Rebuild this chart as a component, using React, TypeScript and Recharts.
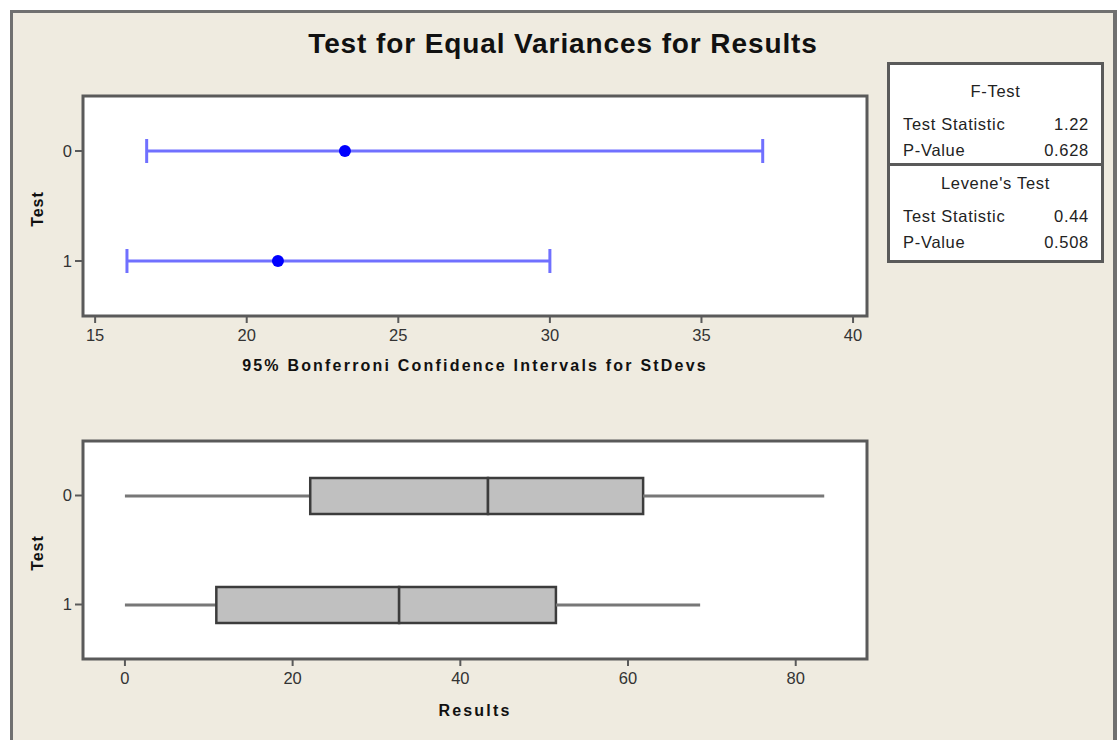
import { Bar, ComposedChart, ErrorBar, ReferenceArea, Scatter, XAxis, YAxis, CartesianGrid } from 'recharts'

const FONT = '"Liberation Sans", Arial, Helvetica, sans-serif'
const PANEL_BG = '#efebe0'
const FRAME = '#5a5a5a'

// groups (rows of both plots)
const groups = ['0', '1']

// 95% Bonferroni confidence intervals for StDevs
const sdLower = [16.7, 16.05]
const sdEstimate = [23.24, 21.03]
const sdUpper = [37.02, 30.0]
const sdTicks = [15, 20, 25, 30, 35, 40]

// box plot of Results
const resMin = [0, 0]
const resQ1 = [22.1, 10.9]
const resMedian = [43.3, 32.7]
const resQ3 = [61.8, 51.4]
const resMax = [83.4, 68.6]
const resTicks = [0, 20, 40, 60, 80]

// test results panel
const fTest = { title: 'F-Test', stat: '1.22', p: '0.628' }
const leveneTest = { title: "Levene's Test", stat: '0.44', p: '0.508' }

const ciData = groups.map((g, i) => ({
  test: i,
  sd: sdEstimate[i],
  err: [sdEstimate[i] - sdLower[i], sdUpper[i] - sdEstimate[i]],
}))

const boxData = groups.map((g, i) => ({
  test: g,
  base: resMin[i],
  lowWhisker: resQ1[i] - resMin[i],
  lowBox: resMedian[i] - resQ1[i],
  highBox: resQ3[i] - resMedian[i],
  highWhisker: resMax[i] - resQ3[i],
}))

const tickStyle = { fill: '#333', fontSize: 16.5, fontFamily: FONT }
const tickLine = { stroke: FRAME, strokeWidth: 2 }
const axisTitle = { fontFamily: FONT, fontWeight: 'bold', fontSize: 16, fill: '#111', letterSpacing: 2.2 }

function Whisker(props: any) {
  const { x, y, width, height } = props
  if (!width) return null
  return <line x1={x} x2={x + width} y1={y + height / 2} y2={y + height / 2} stroke="#777" strokeWidth={3} />
}

function BoxPart(props: any) {
  const { x, y, width, height } = props
  return <rect x={x} y={y} width={width} height={height} fill="#c0c0c0" stroke="#3c3c3c" strokeWidth={2.5} />
}

function Dot(props: any) {
  return <circle cx={props.cx} cy={props.cy} r={6} fill="#0000ff" />
}

function YTitle({ viewBox }: any) {
  const cx = viewBox.x + 37
  const cy = viewBox.y + viewBox.height / 2 + 3
  return (
    <text
      x={cx}
      y={cy}
      transform={`rotate(-90 ${cx} ${cy})`}
      textAnchor="middle"
      dominantBaseline="central"
      fontFamily={FONT}
      fontWeight="bold"
      fontSize={16}
      letterSpacing={1}
      fill="#111"
    >
      Test
    </text>
  )
}

function StatsBlock({ t, top }: { t: typeof fTest; top: number }) {
  const row = { display: 'flex', justifyContent: 'space-between', height: 26, lineHeight: '26px', padding: '0 12px 0 13px' }
  return (
    <div style={{ paddingTop: top }}>
      <div style={{ textAlign: 'center', height: 26, lineHeight: '26px' }}>{t.title}</div>
      <div style={{ height: 7 }} />
      <div style={row}>
        <span>Test Statistic</span>
        <span>{t.stat}</span>
      </div>
      <div style={row}>
        <span>P-Value</span>
        <span>{t.p}</span>
      </div>
    </div>
  )
}

export default function App() {
  return (
    <div style={{ position: 'absolute', left: 0, top: 0, width: 1119, height: 740, background: '#fff', overflow: 'hidden' }}>
      <div
        style={{
          position: 'absolute',
          left: 10,
          top: 10,
          width: 1107,
          height: 740,
          boxSizing: 'border-box',
          background: PANEL_BG,
          borderLeft: '3px solid #707070',
          borderTop: '3px solid #707070',
          borderRight: '4px solid #707070',
        }}
      />
      <div
        style={{
          position: 'absolute',
          left: 10,
          width: 1106,
          top: 27,
          height: 34,
          lineHeight: '34px',
          textAlign: 'center',
          fontFamily: FONT,
          fontWeight: 'bold',
          fontSize: 28,
          letterSpacing: 0.9,
          color: '#111',
        }}
      >
        Test for Equal Variances for Results
      </div>

      <div style={{ position: 'absolute', left: 0, top: 80 }}>
        <ComposedChart width={900} height={320} data={ciData} margin={{ top: 16, right: 33, bottom: 0, left: 0 }}>
          <CartesianGrid fill="#fff" horizontal={false} vertical={false} />
          <XAxis
            type="number"
            dataKey="sd"
            domain={[14.6, 40.46]}
            ticks={sdTicks}
            allowDataOverflow
            height={84}
            axisLine={false}
            tickLine={tickLine}
            tickSize={7}
            tickMargin={6}
            tick={tickStyle}
            label={{
              value: '95% Bonferroni Confidence Intervals for StDevs',
              position: 'insideBottom',
              offset: 29,
              style: axisTitle,
            }}
          />
          <YAxis
            type="number"
            dataKey="test"
            domain={[-0.5, 1.5]}
            ticks={[0, 1]}
            reversed
            width={83}
            axisLine={false}
            tickLine={tickLine}
            tickSize={8}
            tickMargin={3}
            tick={tickStyle}
            tickFormatter={(v: number) => groups[v]}
            label={<YTitle />}
          />
          <Scatter data={ciData} dataKey="sd" shape={<Dot />} isAnimationActive={false}>
            <ErrorBar dataKey="err" direction="x" width={12} stroke="#7070ff" strokeWidth={3} />
          </Scatter>
          <ReferenceArea x1={14.6} x2={40.46} fill="none" stroke={FRAME} strokeWidth={3} />
        </ComposedChart>
      </div>

      <div style={{ position: 'absolute', left: 0, top: 420 }}>
        <ComposedChart
          width={900}
          height={320}
          data={boxData}
          layout="vertical"
          barSize={36}
          margin={{ top: 21, right: 33, bottom: 0, left: 0 }}
        >
          <CartesianGrid fill="#fff" horizontal={false} vertical={false} />
          <XAxis
            type="number"
            domain={[-5, 88.5]}
            ticks={resTicks}
            allowDataOverflow
            height={81}
            axisLine={false}
            tickLine={tickLine}
            tickSize={7}
            tickMargin={6}
            tick={tickStyle}
            label={{
              value: 'Results',
              position: 'insideBottom',
              offset: 24,
              style: axisTitle,
            }}
          />
          <YAxis
            type="category"
            dataKey="test"
            width={83}
            axisLine={false}
            tickLine={tickLine}
            tickSize={8}
            tickMargin={3}
            tick={tickStyle}
            label={<YTitle />}
          />
          <Bar dataKey="base" stackId="box" fill="none" isAnimationActive={false} />
          <Bar dataKey="lowWhisker" stackId="box" shape={<Whisker />} isAnimationActive={false} />
          <Bar dataKey="lowBox" stackId="box" shape={<BoxPart />} isAnimationActive={false} />
          <Bar dataKey="highBox" stackId="box" shape={<BoxPart />} isAnimationActive={false} />
          <Bar dataKey="highWhisker" stackId="box" shape={<Whisker />} isAnimationActive={false} />
          <ReferenceArea x1={-5} x2={88.5} fill="none" stroke={FRAME} strokeWidth={3} />
        </ComposedChart>
      </div>

      <div
        style={{
          position: 'absolute',
          left: 887,
          top: 62,
          width: 217,
          height: 201,
          boxSizing: 'border-box',
          border: `3px solid ${FRAME}`,
          background: '#fff',
          fontFamily: FONT,
          fontSize: 16.5,
          letterSpacing: 0.7,
          color: '#222',
        }}
      >
        <StatsBlock t={fTest} top={13} />
        <div style={{ borderTop: `3px solid ${FRAME}`, marginTop: 0 }} />
        <StatsBlock t={leveneTest} top={4} />
      </div>
    </div>
  )
}
